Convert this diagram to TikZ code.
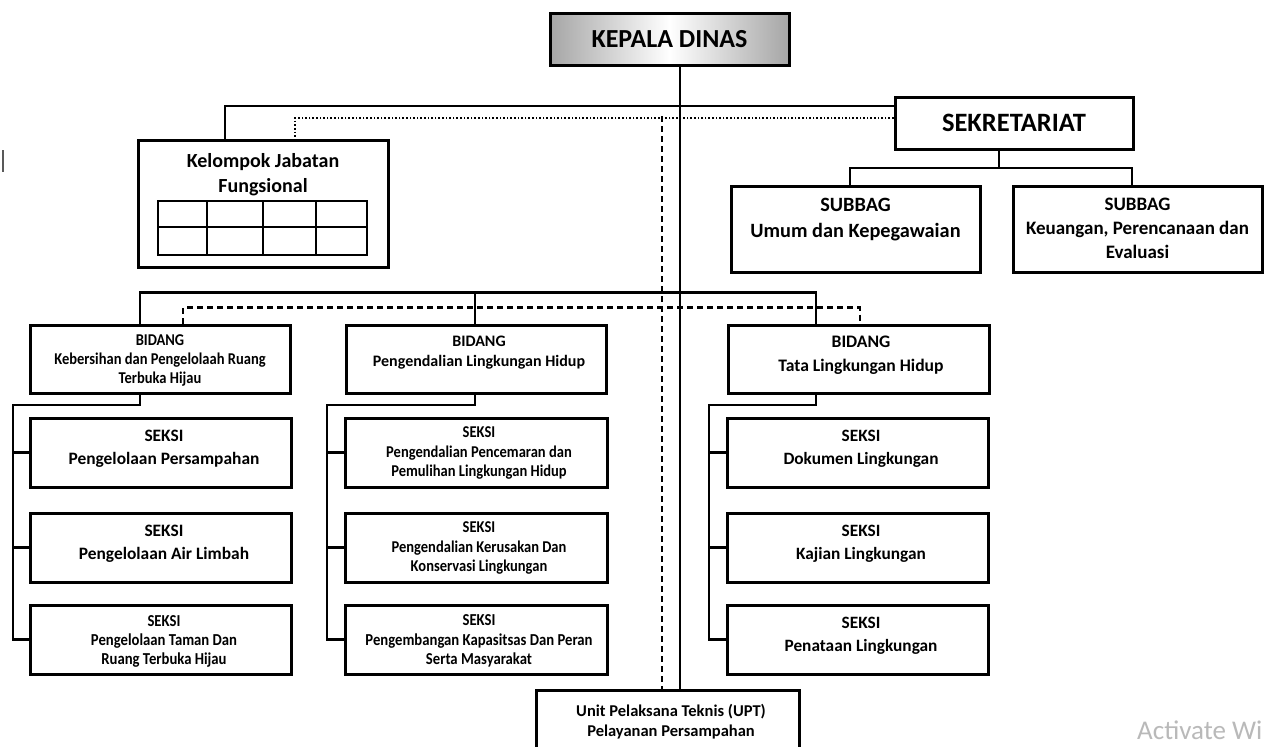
\documentclass[tikz,border=0pt]{standalone}
\usepackage{fontspec}
\setmainfont{Carlito}
\newfontfamily\cnd[FakeStretch=0.88]{Carlito}
\usetikzlibrary{calc}
\tikzset{
  box/.style={draw, line width=3pt, inner sep=0pt, fill=white},
  txt/.style={align=center, inner sep=0pt},
  conn/.style={line width=2.8pt},
  dashln/.style={line width=2.4pt, dash pattern=on 6pt off 4pt},
  dotln/.style={line width=2.4pt, dash pattern=on 1.6pt off 2pt},
}
\newcommand{\fz}[2]{\fontsize{#1}{#2}\selectfont}
\begin{document}
\begin{tikzpicture}[x=1pt,y=-1pt]
\useasboundingbox (0,0) rectangle (1272,747);
\fill[white] (0,0) rectangle (1272,747);

\coordinate (dv) at (662,116);
\coordinate (sj) at (999,168);
\coordinate (v1) at (13,405);
\coordinate (v2) at (327,405);
\coordinate (v3) at (709,405);

% ---------- boxes ----------
\node[box, minimum width=239, minimum height=52, left color=gray!70, right color=gray!70, middle color=white,
      font=\bfseries\fz{26}{30}] (kd) at (669.5,39) {KEPALA DINAS};
\node[box, minimum width=238, minimum height=52, font=\bfseries\fz{26.5}{30}] (sek) at (1014,123) {SEKRETARIAT};
\node[box, minimum width=250, minimum height=127] (kjf) at (263,203.5) {};
\node[box, minimum width=249, minimum height=86] (sub1) at (855.5,229) {};
\node[box, minimum width=249, minimum height=86] (sub2) at (1137.5,229) {};
\node[box, minimum width=260, minimum height=68] (b1) at (160,359) {};
\node[box, minimum width=260, minimum height=68] (b2) at (476,359) {};
\node[box, minimum width=261, minimum height=68] (b3) at (858.5,359) {};
\node[box, minimum width=261, minimum height=69] (s11) at (160.5,452.5) {};
\node[box, minimum width=261, minimum height=69] (s12) at (160.5,547.5) {};
\node[box, minimum width=261, minimum height=69] (s13) at (160.5,639.5) {};
\node[box, minimum width=262, minimum height=69] (s21) at (476,452.5) {};
\node[box, minimum width=262, minimum height=69] (s22) at (476,547.5) {};
\node[box, minimum width=262, minimum height=69] (s23) at (476,639.5) {};
\node[box, minimum width=261, minimum height=69] (s31) at (857.5,452.5) {};
\node[box, minimum width=261, minimum height=69] (s32) at (857.5,547.5) {};
\node[box, minimum width=261, minimum height=69] (s33) at (857.5,639.5) {};
\node[box, minimum width=263, minimum height=66] (upt) at (667.5,723) {};

% table inside Kelompok Jabatan Fungsional
\draw[line width=1.4pt] (158,201) rectangle (367,255);
\draw[line width=1.4pt] (158,227) -- (367,227);
\draw[line width=1.4pt] (207,201) -- (207,255) (263,201) -- (263,255) (316,201) -- (316,255);

% ---------- connectors ----------
\draw[conn] ([xshift=10.5pt]kd.south) -- ([xshift=12.5pt]upt.north);
\draw[conn] ([yshift=17pt]sek.west) -| ([xshift=-38pt]kjf.north);
\draw[dotln] ([yshift=5pt]sek.west) -| ([xshift=32pt]kjf.north);
\draw[dashln] (dv) -- (dv |- upt.north);
\draw[conn] ([xshift=-15pt]sek.south) -- (sj);
\draw[conn] ([xshift=-5.5pt]sub1.north) |- (sj) -| ([xshift=-5.5pt]sub2.north);
\draw[conn] ([xshift=-20pt]b1.north) |- ([xshift=-42.5pt, yshift=31pt]b3.north) -- ([xshift=-42.5pt]b3.north);
\draw[conn] ([xshift=-1pt, yshift=31pt]b2.north) -- ([xshift=-1pt]b2.north);
\draw[dashln] ([xshift=23pt]b1.north) |- ([xshift=1.5pt, yshift=16pt]b3.north) -- ([xshift=1.5pt]b3.north);
\draw[conn] ([xshift=-20pt]b1.south) |- (v1) |- (s13.west);
\draw[conn] (v1 |- s11.west) -- (s11.west);
\draw[conn] (v1 |- s12.west) -- (s12.west);
\draw[conn] ([xshift=-1pt]b2.south) |- (v2) |- (s23.west);
\draw[conn] (v2 |- s21.west) -- (s21.west);
\draw[conn] (v2 |- s22.west) -- (s22.west);
\draw[conn] ([xshift=-42.5pt]b3.south) |- (v3) |- (s33.west);
\draw[conn] (v3 |- s31.west) -- (s31.west);
\draw[conn] (v3 |- s32.west) -- (s32.west);

% ---------- texts ----------
\node[txt, font=\bfseries\fz{20}{25}] (kjft) at (263,175) {Kelompok Jabatan\\Fungsional};
\node[txt, font=\bfseries\fz{20.3}{26}] (sub1t) at (855.5,219.5) {SUBBAG\\Umum dan Kepegawaian};
\node[txt, font=\bfseries\fz{19}{24}] (sub2t) at (1137.5,228) {SUBBAG\\Keuangan, Perencanaan dan\\Evaluasi};
\node[txt, font=\cnd\bfseries\fz{16.5}{19}] (b1t) at (160,360) {BIDANG\\Kebersihan dan Pengelolaah Ruang\\Terbuka Hijau};
\node[txt, font=\bfseries\fz{16}{20.5}] (b2t) at (479,352.5) {BIDANG\\Pengendalian Lingkungan Hidup};
\node[txt, font=\bfseries\fz{17.6}{23.5}] (b3t) at (861,355) {BIDANG\\Tata Lingkungan Hidup};
\node[txt, font=\bfseries\fz{17.4}{23}] (s11t) at (164,449) {SEKSI\\Pengelolaan Persampahan};
\node[txt, font=\bfseries\fz{17.4}{23}] (s12t) at (164,544) {SEKSI\\Pengelolaan Air Limbah};
\node[txt, font=\cnd\bfseries\fz{16.7}{19}] (s13t) at (164,641) {SEKSI\\Pengelolaan Taman Dan\\Ruang Terbuka Hijau};
\node[txt, font=\cnd\bfseries\fz{16.5}{19.5}] (s21t) at (479,453) {SEKSI\\Pengendalian Pencemaran dan\\Pemulihan Lingkungan Hidup};
\node[txt, font=\cnd\bfseries\fz{16.5}{19.5}] (s22t) at (479,548) {SEKSI\\Pengendalian Kerusakan Dan\\Konservasi Lingkungan};
\node[txt, font=\cnd\bfseries\fz{16.7}{19.5}] (s23t) at (479,641) {SEKSI\\Pengembangan Kapasitsas Dan Peran\\Serta Masyarakat};
\node[txt, font=\bfseries\fz{17.3}{23}] (s31t) at (861,449) {SEKSI\\Dokumen Lingkungan};
\node[txt, font=\bfseries\fz{17.3}{23}] (s32t) at (861,544) {SEKSI\\Kajian Lingkungan};
\node[txt, font=\bfseries\fz{17.3}{23}] (s33t) at (861,636) {SEKSI\\Penataan Lingkungan};
\node[txt, font=\bfseries\fz{16.5}{20}] (uptt) at (671,722) {Unit Pelaksana Teknis (UPT)\\Pelayanan Persampahan};

% watermark and stray mark
\node[anchor=base west, inner sep=0pt, text=gray!55, font=\fz{27}{31}] (wm) at (1137,739) {Activate Wi};
\draw[line width=2pt, gray!70!black] (3,150) -- (3,172);
\end{tikzpicture}
\end{document}
